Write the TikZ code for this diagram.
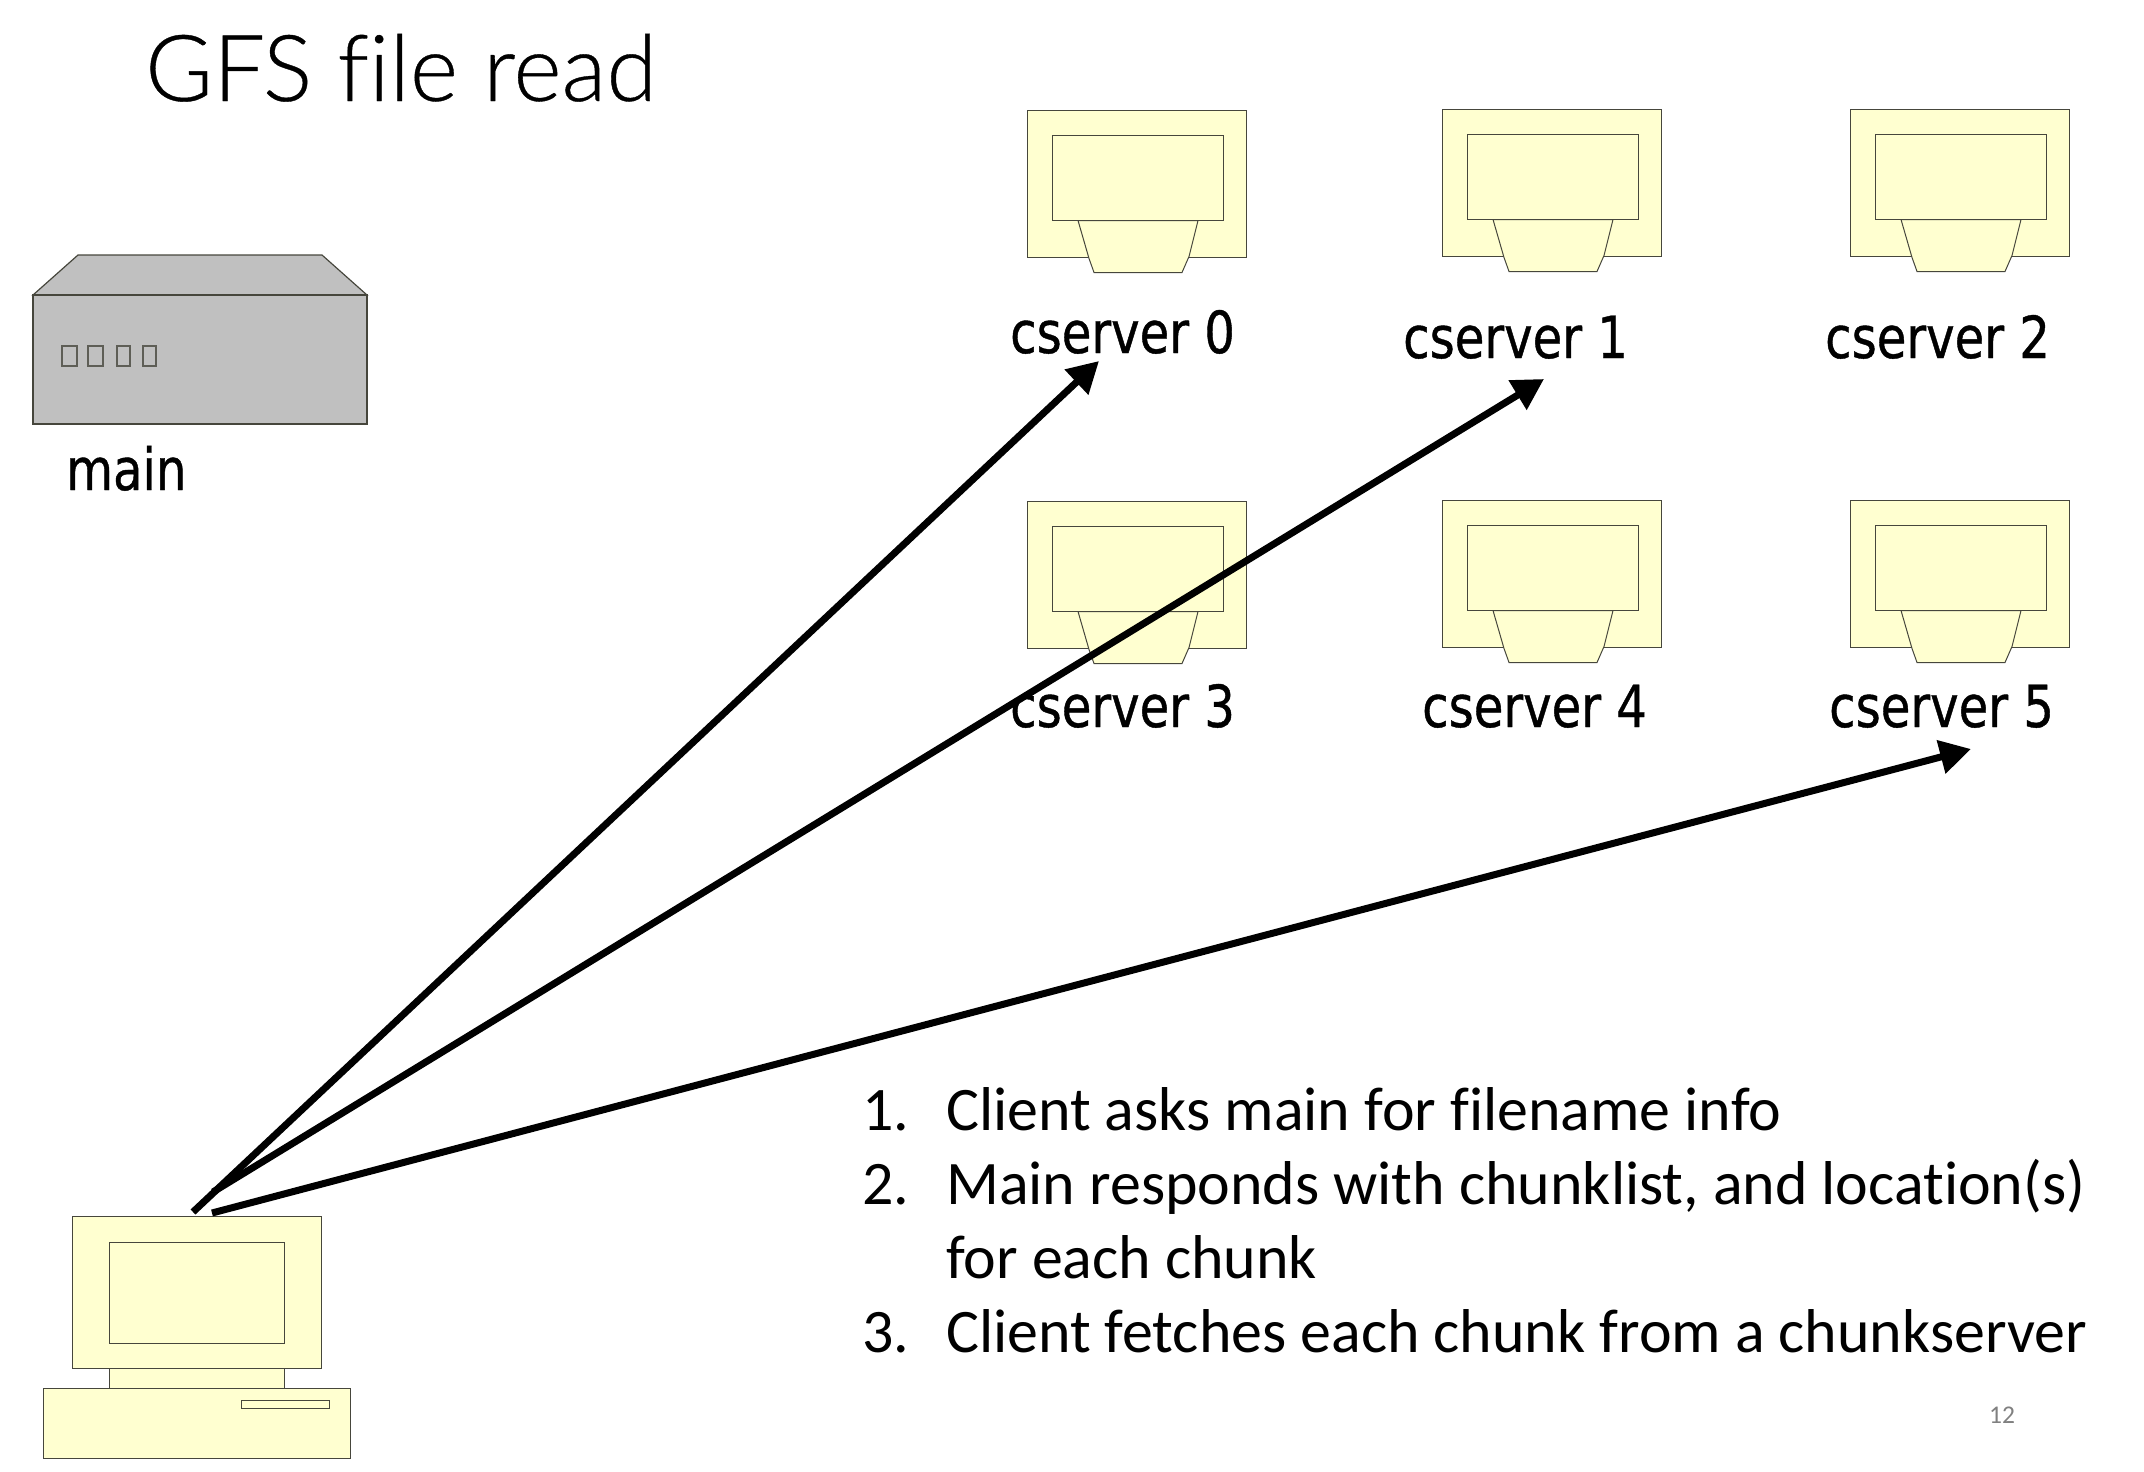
\documentclass[tikz,border=0pt]{standalone}
\usepackage{fontspec}
\setmainfont[Ligatures=NoCommon]{Carlito}
\newfontfamily\lblfont[FakeStretch=0.83,FakeBold=0.7]{DejaVu Sans}
\newfontfamily\titlefont[Ligatures=NoCommon,FakeBold=0.4]{Lato Light}
\usetikzlibrary{arrows.meta}
\definecolor{ly}{RGB}{255,255,208}
\definecolor{gy}{RGB}{192,192,192}
\definecolor{edge}{RGB}{70,70,60}
\tikzset{x=1pt,y=-1pt,
 shape part/.style={draw=edge,fill=ly,line width=1pt},
 grey part/.style={draw=edge,fill=gy,line width=1.2pt},
 lbl/.style={anchor=base west,inner sep=0pt,font=\lblfont\fontsize{58}{58}\selectfont},
 listtxt/.style={anchor=base west,inner sep=0pt,font=\fontsize{61.9}{62}\selectfont},
 conn/.style={draw=black,line width=7pt,-{Triangle[length=31pt,width=33pt]}},
 pics/cserver/.style={code={
  \draw[shape part] (0,0) rectangle (219.5,146.5);
  \draw[shape part] (51,110) -- (62,148) -- (67,162) -- (155,162) -- (162,146) -- (171,110) -- cycle;
  \draw[shape part] (25,25) rectangle (196,110);
 }}
}
\begin{document}
\begin{tikzpicture}
\useasboundingbox (0,0) rectangle (2144,1472);
\node[anchor=base west,inner sep=0pt,font=\titlefont\fontsize{92.4}{93}\selectfont] (title) at (145,101) {GFS file read};
% cservers
\pic at (1027,110.5) {cserver};
\pic at (1442,109.5) {cserver};
\pic at (1850,109.5) {cserver};
\pic at (1027,501.5) {cserver};
\pic at (1442,500.5) {cserver};
\pic at (1850,500.5) {cserver};
\node[lbl] (c0) at (1010,353) {cserver 0};
\node[lbl] (c1) at (1403,358) {cserver 1};
\node[lbl] (c2) at (1825,358) {cserver 2};
\node[lbl] (c3) at (1010,727) {cserver 3};
\node[lbl] (c4) at (1422,727) {cserver 4};
\node[lbl] (c5) at (1829,727) {cserver 5};
% main
\draw[grey part] (33,295) -- (78,255) -- (322,255) -- (367,295) -- cycle;
\draw[grey part] (33,295) rectangle (367,424);
\foreach \a/\b in {62/77,88/103,117/130,143/156}
  \draw[draw=edge!80!gy,line width=1.2pt] (\a,346) rectangle (\b,366);
\node[lbl] (mainlbl) at (66,490) {main};
% client
\draw[shape part] (109,1368) rectangle (284,1390);
\draw[shape part] (72,1216) rectangle (321,1368);
\draw[shape part] (109,1242) rectangle (284,1343);
\draw[shape part] (43,1388) rectangle (350,1458);
\draw[shape part] (241,1400) rectangle (329,1408);
% connectors
\coordinate (s1) at (193,1212);
\coordinate (s1b) at (213,1192);
\coordinate (s2) at (212,1213);
\coordinate (t0) at (1099,361);
\coordinate (t1) at (1544,379);
\coordinate (t5) at (1971,749);
\draw[conn] (s1) -- (t0);
\draw[conn] (s1b) -- (t1);
\draw[conn] (s2) -- (t5);
% list
\node[listtxt] (n1) at (862,1130) {1.};
\node[listtxt] (l1) at (946,1130) {Client asks main for filename info};
\node[listtxt] (n2) at (862,1204) {2.};
\node[listtxt] (l2) at (946,1204) {Main responds with chunklist, and location(s)};
\node[listtxt] (l2b) at (946,1278) {for each chunk};
\node[listtxt] (n3) at (862,1352) {3.};
\node[listtxt] (l3) at (946,1352) {Client fetches each chunk from a chunkserver};
\node[anchor=base west,inner sep=0pt,text=gray,font=\fontsize{25.5}{26}\selectfont] (pg) at (1989,1423) {12};
\end{tikzpicture}
\end{document}
